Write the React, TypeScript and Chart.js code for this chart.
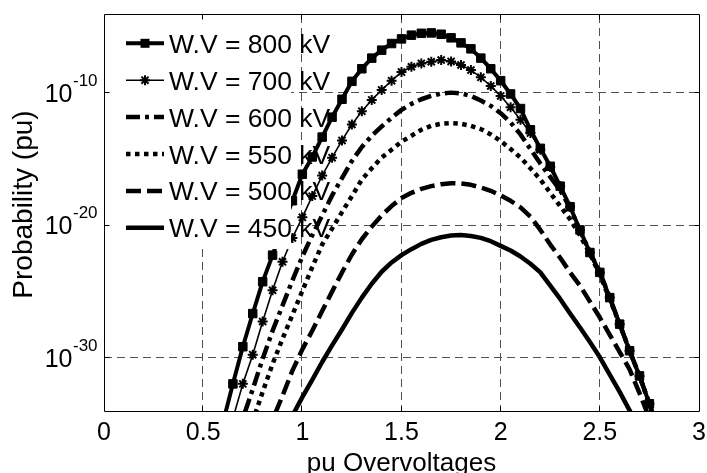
import React, { useEffect, useRef } from 'react';
import { Chart, registerables } from 'chart.js';

Chart.register(...registerables);

// ---------- data ----------
const xValues = [
  0.6, 0.65, 0.7, 0.75, 0.8, 0.85, 0.9, 0.95, 1.0, 1.05, 1.1, 1.15, 1.2, 1.25, 1.3,
  1.35, 1.4, 1.45, 1.5, 1.55, 1.6, 1.65, 1.7, 1.75, 1.8, 1.85, 1.9, 1.95, 2.0, 2.05,
  2.1, 2.15, 2.2, 2.25, 2.3, 2.35, 2.4, 2.45, 2.5, 2.55, 2.6, 2.65, 2.7, 2.75, 2.8,
];

// log10 of probability for each withstand voltage
const log10Prob800 = [
  -34.9, -32.0, -29.2, -26.7, -24.3, -22.3, -20.2, -18.2, -16.2, -14.9, -13.4, -11.9, -10.55, -9.2, -8.25,
  -7.45, -6.85, -6.35, -6.0, -5.72, -5.58, -5.55, -5.65, -5.92, -6.3, -6.75, -7.45, -8.25, -9.15, -10.15,
  -11.25, -12.85, -14.25, -15.6, -17.1, -18.65, -20.4, -22.1, -23.6, -25.5, -27.5, -29.5, -31.4, -33.5, -35.8,
];
const log10Prob700 = [
  -37.5, -34.6, -32.0, -29.8, -27.3, -24.95, -22.8, -21.0, -19.45, -17.85, -16.3, -14.95, -13.65, -12.45, -11.45,
  -10.6, -9.85, -9.15, -8.5, -8.1, -7.85, -7.72, -7.6, -7.7, -7.97, -8.35, -8.9, -9.55, -10.3, -11.15,
  -12.1, -13.1, -14.35, -15.65, -17.1, -18.65, -20.4, -22.1, -23.6, -25.5, -27.5, -29.5, -31.4, -33.5, -35.8,
];
const log10Prob600 = [
  -38.0, -36.3, -34.6, -32.4, -30.1, -28.0, -26.1, -24.2, -22.4, -20.8, -19.3, -17.8, -16.5, -15.2, -14.15,
  -13.3, -12.6, -11.95, -11.35, -10.9, -10.55, -10.3, -10.12, -10.05, -10.1, -10.3, -10.65, -11.05, -11.6, -12.3,
  -13.2, -14.3, -15.4, -16.4, -17.4, -18.75, -20.45, -22.1, -23.6, -25.5, -27.5, -29.5, -31.4, -33.5, -35.8,
];
const log10Prob550 = [
  -42.0, -39.7, -37.3, -34.8, -32.6, -30.5, -28.6, -26.8, -25.0, -23.2, -21.5, -20.3, -19.05, -17.85, -16.6,
  -15.75, -14.95, -14.35, -13.75, -13.3, -12.85, -12.55, -12.4, -12.35, -12.4, -12.55, -12.8, -13.2, -13.7, -14.3,
  -14.95, -15.75, -16.6, -17.6, -18.6, -19.6, -20.8, -22.2, -23.8, -25.6, -27.5, -29.5, -31.4, -33.5, -35.8,
];
const log10Prob500 = [
  -44.6, -42.6, -40.6, -38.6, -36.6, -34.7, -32.9, -31.0, -29.4, -28.0, -26.5, -25.05, -23.6, -22.25, -21.1,
  -20.15, -19.3, -18.6, -18.0, -17.6, -17.3, -17.1, -16.95, -16.88, -16.9, -17.0, -17.2, -17.45, -17.8, -18.2,
  -18.7, -19.4, -20.4, -21.5, -22.5, -23.6, -24.6, -25.8, -27.0, -28.3, -29.6, -30.9, -32.7, -34.6, -36.5,
];
const log10Prob450 = [
  -47.0, -45.5, -44.0, -42.0, -40.0, -38.0, -36.0, -34.4, -33.0, -31.7, -30.35, -29.1, -27.9, -26.65, -25.5,
  -24.45, -23.55, -22.85, -22.3, -21.85, -21.45, -21.15, -20.95, -20.82, -20.78, -20.85, -21.0, -21.25, -21.6, -21.95,
  -22.4, -22.95, -23.6, -24.6, -25.6, -26.7, -27.75, -28.85, -30.0, -31.3, -32.6, -34.0, -35.4, -37.0, -38.6,
];

const seriesLabels = [
  'W.V = 800 kV',
  'W.V = 700 kV',
  'W.V = 600 kV',
  'W.V = 550 kV',
  'W.V = 500 kV',
  'W.V = 450 kV',
];
const seriesValues = [log10Prob800, log10Prob700, log10Prob600, log10Prob550, log10Prob500, log10Prob450];

const xTickValues = [0, 0.5, 1, 1.5, 2, 2.5, 3];
const xTickLabels = ['0', '0.5', '1', '1.5', '2', '2.5', '3'];
const yTickExponents = [-10, -20, -30];
const yTickExpLabels = ['-10', '-20', '-30'];
const yTickBase = '10';
const xAxisTitle = 'pu Overvoltages';
const yAxisTitle = 'Probability (pu)';
const xMin = 0;
const xMax = 3;
const yMinExp = -34.12;
const yMaxExp = -4.2;

// ---------- styles ----------
const FONT = '"Liberation Sans", Arial, Helvetica, sans-serif';
type Style = { width: number; dash: number[]; marker: 'rect' | 'star' | null };
const seriesStyles: Style[] = [
  { width: 4, dash: [], marker: 'rect' },
  { width: 1.6, dash: [], marker: 'star' },
  { width: 4.5, dash: [14, 5, 4, 5], marker: null },
  { width: 4.5, dash: [4.5, 4.5], marker: null },
  { width: 4.5, dash: [15, 6], marker: null },
  { width: 4.5, dash: [], marker: null },
];

function drawMarker(ctx: CanvasRenderingContext2D, kind: string | null, cx: number, cy: number) {
  if (kind === 'rect') {
    ctx.fillRect(cx - 4.5, cy - 4.5, 9, 9);
  } else if (kind === 'star') {
    const r = 5;
    const d = r * Math.SQRT1_2;
    ctx.setLineDash([]);
    ctx.lineWidth = 2;
    ctx.beginPath();
    ctx.moveTo(cx - r, cy); ctx.lineTo(cx + r, cy);
    ctx.moveTo(cx, cy - r); ctx.lineTo(cx, cy + r);
    ctx.moveTo(cx - d, cy - d); ctx.lineTo(cx + d, cy + d);
    ctx.moveTo(cx - d, cy + d); ctx.lineTo(cx + d, cy - d);
    ctx.stroke();
  }
}

const decorPlugin = {
  id: 'decor',
  beforeDraw(chart: any) {
    const ctx = chart.ctx as CanvasRenderingContext2D;
    ctx.save();
    ctx.fillStyle = '#ffffff';
    ctx.fillRect(0, 0, chart.width, chart.height);
    ctx.restore();
  },
  beforeDatasetsDraw(chart: any) {
    const ctx = chart.ctx as CanvasRenderingContext2D;
    const { left, right, top, bottom } = chart.chartArea;
    const xs = chart.scales.x;
    const ys = chart.scales.y;
    ctx.save();
    ctx.strokeStyle = '#505050';
    ctx.lineWidth = 1;
    ctx.setLineDash([8, 5]);
    for (const v of xTickValues) {
      if (v <= xMin || v >= xMax) continue;
      const px = Math.round(xs.getPixelForValue(v)) - 0.5;
      ctx.beginPath();
      ctx.moveTo(px, top);
      ctx.lineTo(px, bottom);
      ctx.stroke();
    }
    for (const e of yTickExponents) {
      const py = Math.round(ys.getPixelForValue(Math.pow(10, e))) + 0.5;
      ctx.beginPath();
      ctx.moveTo(left, py);
      ctx.lineTo(right, py);
      ctx.stroke();
    }
    ctx.restore();
  },
  afterDatasetsDraw(chart: any) {
    const ctx = chart.ctx as CanvasRenderingContext2D;
    const { left, right, top, bottom } = chart.chartArea;
    const xs = chart.scales.x;
    const ys = chart.scales.y;
    ctx.save();

    // legend background (white, no border)
    ctx.fillStyle = '#ffffff';
    ctx.fillRect(left + 1, top + 1, 291 - left - 1, 249 - top - 1);

    // legend entries
    const rowY0 = 43.3;
    const rowStep = 36.9;
    ctx.fillStyle = '#000';
    ctx.strokeStyle = '#000';
    for (let i = 0; i < seriesLabels.length; i++) {
      const st = seriesStyles[i];
      const cy = rowY0 + i * rowStep;
      ctx.lineWidth = st.width;
      ctx.lineCap = 'butt';
      ctx.setLineDash(st.dash);
      ctx.beginPath();
      ctx.moveTo(126, cy);
      ctx.lineTo(164, cy);
      ctx.stroke();
      drawMarker(ctx, st.marker, 145, cy);
      ctx.font = `26.5px ${FONT}`;
      ctx.textAlign = 'left';
      ctx.textBaseline = 'alphabetic';
      ctx.fillText(seriesLabels[i], 169, cy + 9.5);
    }

    // axes box
    ctx.setLineDash([]);
    ctx.lineWidth = 1;
    ctx.strokeStyle = '#000';
    const bl = Math.round(left) + 0.5;
    const br = Math.round(right) + 0.5;
    const bt = Math.round(top) - 0.5;
    const bb = Math.round(bottom) - 0.5;
    ctx.beginPath();
    ctx.moveTo(bl, bt); ctx.lineTo(br, bt); ctx.lineTo(br, bb); ctx.lineTo(bl, bb); ctx.closePath();
    ctx.stroke();

    // inward tick marks
    ctx.beginPath();
    for (const v of xTickValues) {
      if (v <= xMin || v >= xMax) continue;
      const px = Math.round(xs.getPixelForValue(v)) - 0.5;
      ctx.moveTo(px, bb); ctx.lineTo(px, bb - 5);
      ctx.moveTo(px, bt); ctx.lineTo(px, bt + 5);
    }
    for (const e of yTickExponents) {
      const py = Math.round(ys.getPixelForValue(Math.pow(10, e))) + 0.5;
      ctx.moveTo(bl, py); ctx.lineTo(bl + 5, py);
      ctx.moveTo(br, py); ctx.lineTo(br - 5, py);
    }
    ctx.stroke();

    // x tick labels
    ctx.fillStyle = '#000';
    ctx.font = `25px ${FONT}`;
    ctx.textAlign = 'center';
    ctx.textBaseline = 'alphabetic';
    xTickValues.forEach((v, i) => {
      const px = xs.getPixelForValue(v);
      ctx.fillText(xTickLabels[i], px, 440);
    });

    // y tick labels with superscript exponents
    yTickExponents.forEach((e, i) => {
      const py = ys.getPixelForValue(Math.pow(10, e));
      ctx.font = `25px ${FONT}`;
      ctx.textAlign = 'right';
      ctx.fillText(yTickBase, 72.5, py + 9.7);
      ctx.font = `17px ${FONT}`;
      ctx.textAlign = 'left';
      ctx.fillText(yTickExpLabels[i], 73, py - 6.3);
    });

    // axis titles
    ctx.font = `26px ${FONT}`;
    ctx.textAlign = 'center';
    ctx.fillText(xAxisTitle, (left + right) / 2, 471);
    ctx.save();
    ctx.font = `28px ${FONT}`;
    ctx.translate(32, 204.5);
    ctx.rotate(-Math.PI / 2);
    ctx.fillText(yAxisTitle, 0, 0);
    ctx.restore();

    ctx.restore();
  },
};

export default function App() {
  const ref = useRef<HTMLCanvasElement>(null);
  useEffect(() => {
    const canvas = ref.current;
    if (!canvas) return;
    const datasets = seriesValues.map((vals, i) => {
      const st = seriesStyles[i];
      return {
        label: seriesLabels[i],
        data: xValues.map((x, j) => ({ x, y: Math.pow(10, vals[j]) })),
        borderColor: '#000',
        backgroundColor: '#000',
        borderWidth: st.width,
        borderDash: st.dash,
        borderCapStyle: 'butt' as const,
        borderJoinStyle: 'round' as const,
        tension: 0,
        fill: false,
        clip: 0,
        pointStyle: st.marker === 'rect' ? 'rect' : st.marker === 'star' ? 'star' : 'circle',
        pointRadius: st.marker === 'rect' ? 6 : st.marker === 'star' ? 5 : 0,
        pointBorderWidth: st.marker === 'star' ? 2 : 1,
        pointBackgroundColor: '#000',
        pointBorderColor: '#000',
        pointHoverRadius: 0,
      };
    });
    const chart = new Chart(canvas, {
      type: 'line',
      data: { datasets } as any,
      options: {
        responsive: false,
        animation: false,
        devicePixelRatio: 1,
        events: [],
        layout: { padding: { left: 104, right: 8, top: 15, bottom: 61 } },
        plugins: {
          legend: { display: false },
          tooltip: { enabled: false },
          title: { display: false },
        },
        scales: {
          x: { type: 'linear', display: false, min: xMin, max: xMax },
          y: {
            type: 'logarithmic',
            display: false,
            bounds: 'data',
            min: Math.pow(10, yMinExp),
            max: Math.pow(10, yMaxExp),
          },
        },
      } as any,
      plugins: [decorPlugin],
    });
    return () => chart.destroy();
  }, []);
  return (
    <div style={{ position: 'fixed', left: 0, top: 0, width: 707, height: 473, background: '#fff' }}>
      <canvas ref={ref} width={707} height={473} style={{ display: 'block', width: '707px', height: '473px' }} />
    </div>
  );
}
